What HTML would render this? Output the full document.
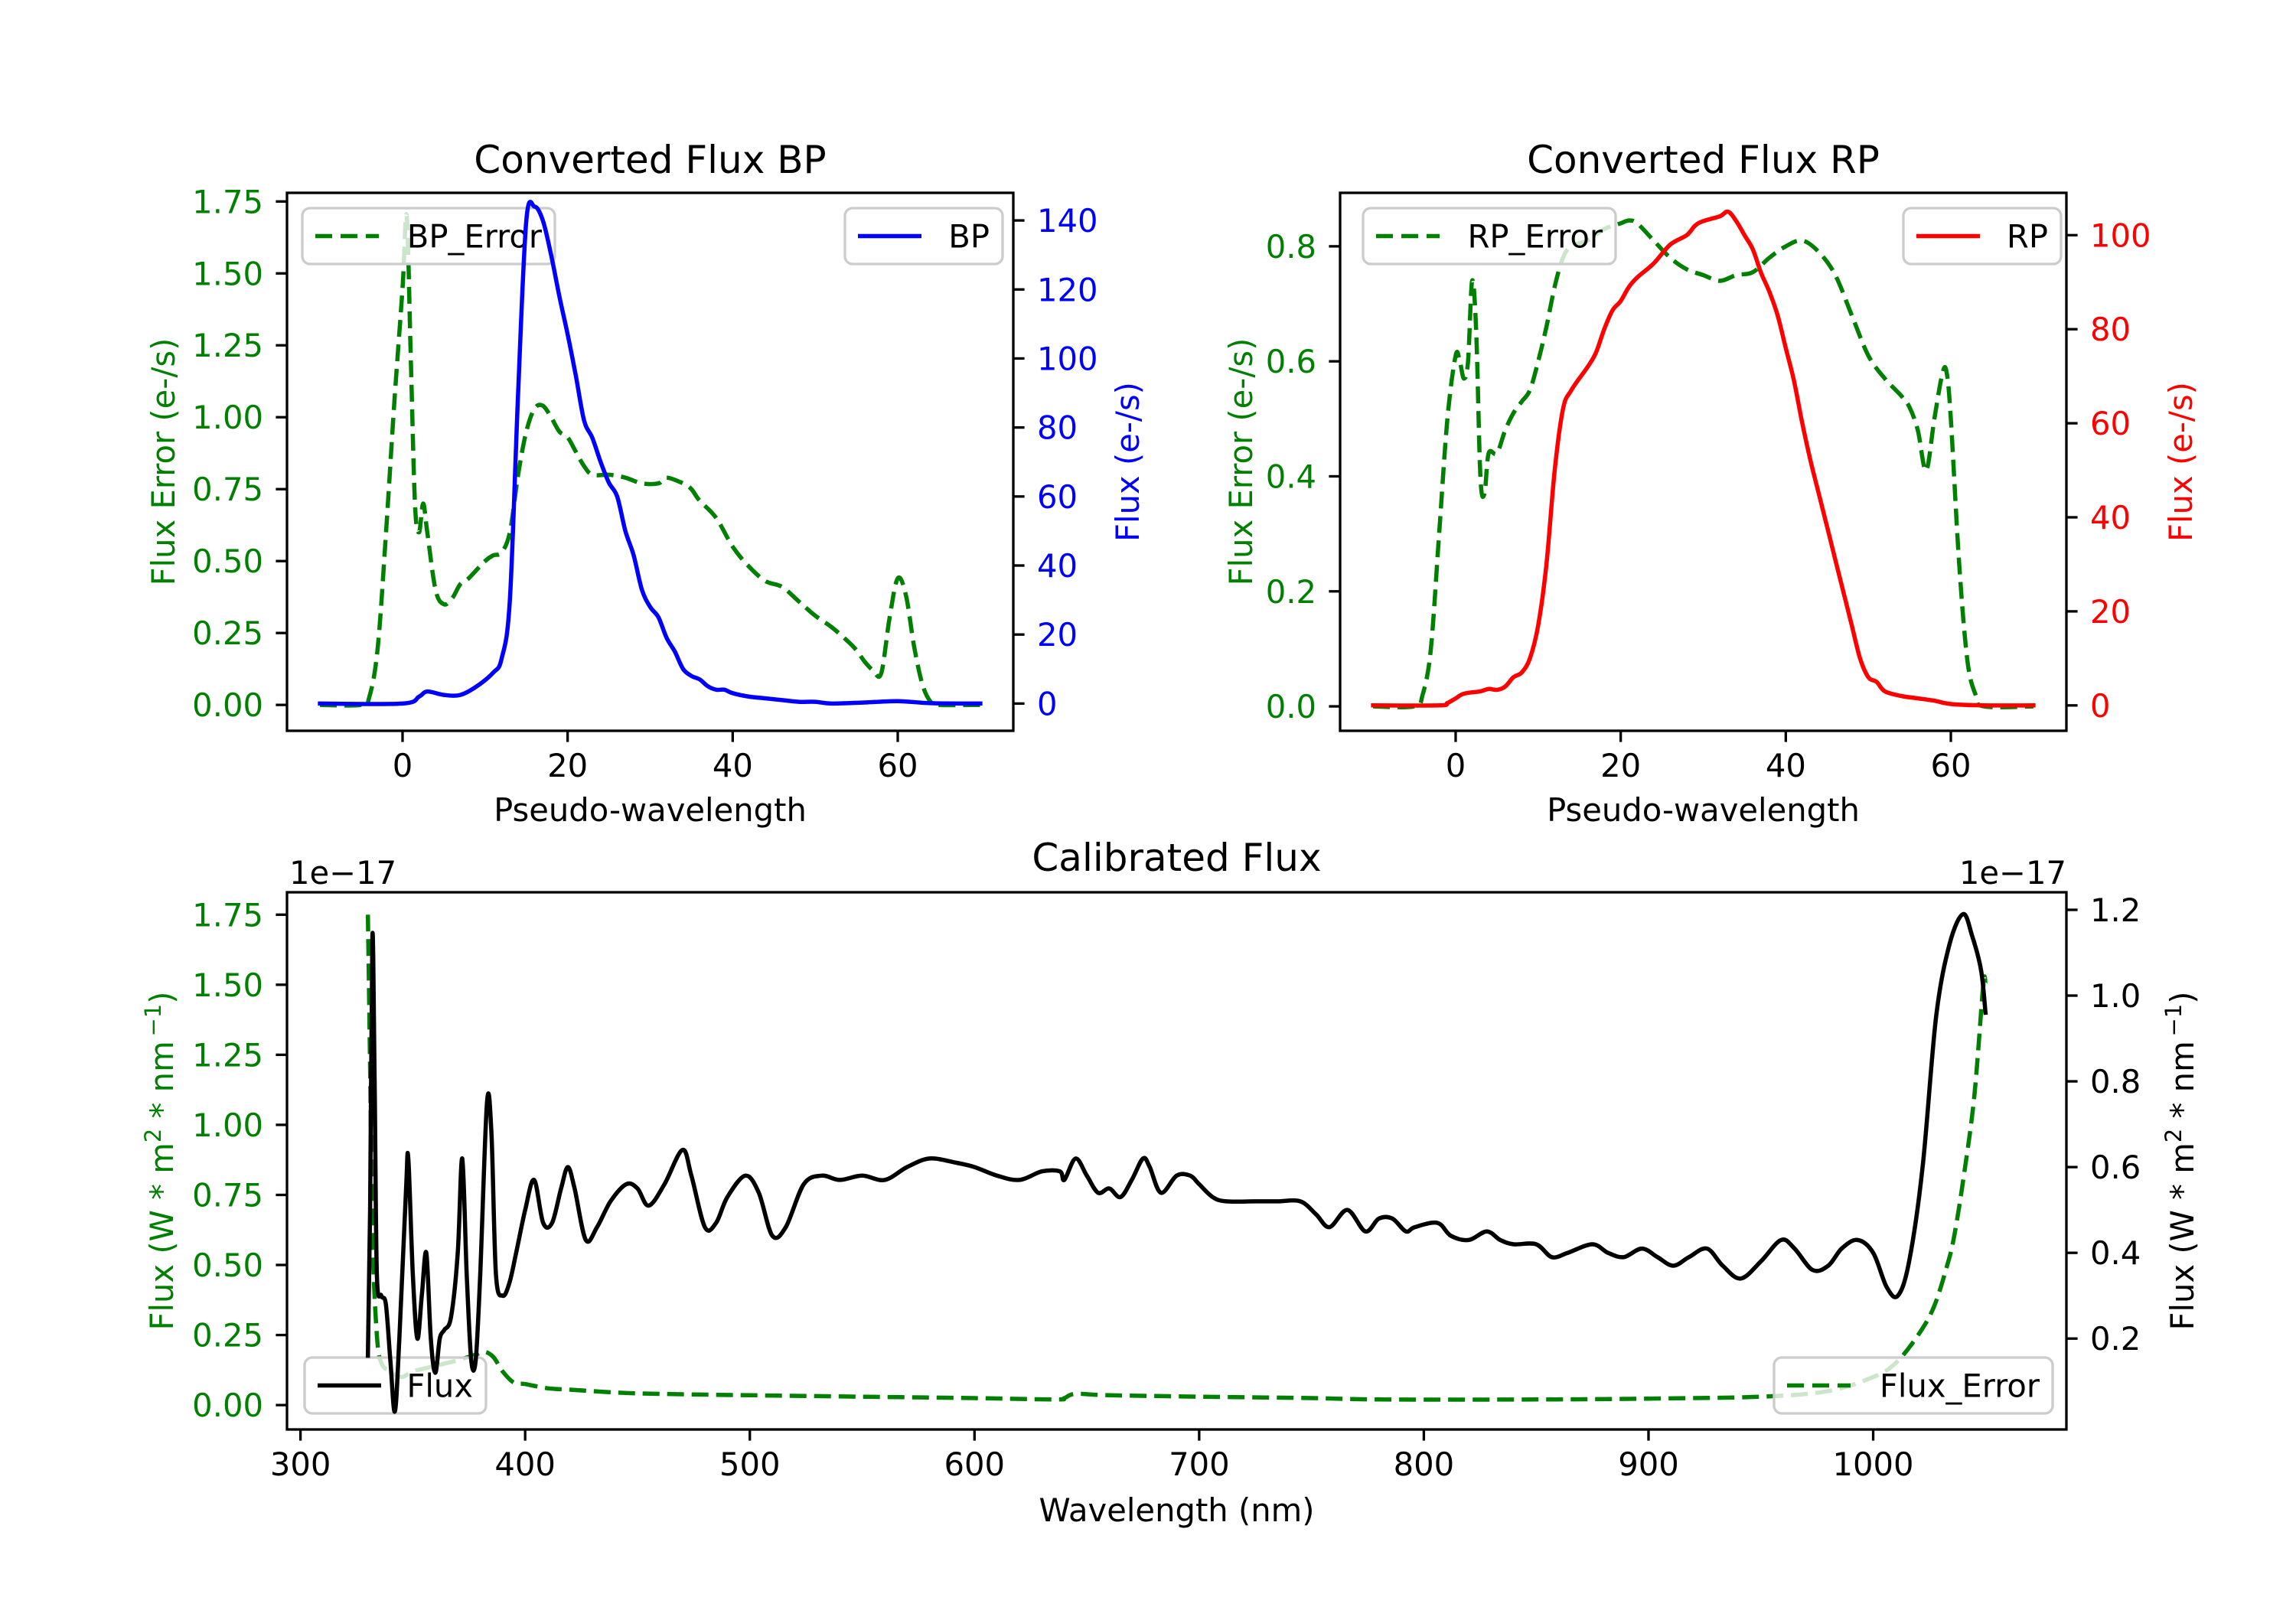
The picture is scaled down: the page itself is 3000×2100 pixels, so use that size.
<!DOCTYPE html>
<html><head><meta charset="utf-8">
<style>
html,body{margin:0;padding:0;background:#fff;}
svg{display:block;font-family:"DejaVu Sans","Liberation Sans",sans-serif;}
</style></head>
<body>
<svg id="fig" width="3000" height="2100" viewBox="0 0 3000 2100" xmlns="http://www.w3.org/2000/svg">
<rect width="3000" height="2100" fill="#fff"/>
</svg>
<script>
// ---------- BP panel data ----------
const bpErrX = [-10,-5,-4,-3,-2,-1,0,0.5,1,1.5,2,2.5,3,4,5,6,7,8,10,11,12,13,14,15,16,17,18,19,20,21,22,23,25,27,29,31,32,34,35,36,38,40,42,44,46,48,50,52,54,55,56,57,58,59,60,61,62,63,64,65,70];
const bpErrY = [0,0,0.03,0.2,0.6,1.05,1.45,1.7,1.2,0.7,0.6,0.7,0.6,0.4,0.35,0.37,0.42,0.44,0.5,0.52,0.53,0.6,0.8,0.95,1.03,1.04,1.0,0.95,0.93,0.88,0.83,0.8,0.8,0.79,0.77,0.77,0.79,0.77,0.75,0.71,0.65,0.55,0.48,0.43,0.41,0.36,0.31,0.27,0.22,0.19,0.15,0.12,0.11,0.3,0.44,0.38,0.2,0.07,0.01,0,0];
const bpX = [-10,0,2,3,5,7,9,11,12,13,14,15,16,17,18,19,20,21,22,23,24,25,26,27,28,29,30,31,32,33,34,35,36,37,38,39,40,42,44,46,48,50,52,56,60,64,70];
const bpY = [0,0,2,3.5,2.5,2.5,5,9,13,30,90,140,144,140,130,118,107,95,82,77,70,64,60,50,43,33,28,25,19,15,10,8,7,5,4,4,3,2,1.5,1,0.5,0.5,0,0.3,0.7,0.1,0];
const bpLeftTicks = [0,0.25,0.5,0.75,1.0,1.25,1.5,1.75];
const bpLeftLabels = ["0.00","0.25","0.50","0.75","1.00","1.25","1.50","1.75"];
const bpRightTicks = [0,20,40,60,80,100,120,140];
const xTicksPW = [0,20,40,60];
// ---------- RP panel data ----------
const rpErrX = [-10,-5,-4,-3,-2,-1,0,0.5,1,1.5,2,2.5,3,3.5,4,5,6,7,8,9,10,11,12,13,14,16,18,20,21,22,24,26,28,30,32,34,36,38,40,42,44,46,48,50,52,54,55,56,57,58,59,59.5,60,61,62,63,64,70];
const rpErrY = [0,0,0.02,0.1,0.3,0.5,0.61,0.6,0.57,0.6,0.74,0.65,0.4,0.37,0.44,0.44,0.48,0.51,0.53,0.55,0.6,0.66,0.73,0.78,0.8,0.81,0.83,0.84,0.845,0.84,0.81,0.78,0.76,0.75,0.74,0.75,0.755,0.78,0.8,0.81,0.79,0.75,0.68,0.61,0.57,0.54,0.52,0.48,0.41,0.5,0.58,0.58,0.5,0.25,0.08,0.02,0,0];
const rpX = [-10,-2,-1,0,1,3,4,5,6,7,8,9,10,11,12,13,14,16,17,18,19,20,21,22,24,26,28,29,30,32,33,34,35,36,37,38,39,40,41,42,43,44,45,46,47,48,49,50,51,52,54,56,58,60,64,70];
const rpY = [0,0,0.5,1.5,2.5,3,3.5,3.3,4,6,7,10,17,30,50,63,67,72,75,80,84,86,89,91,94,98,100,102,103,104,105,103,100,97,92,88,83,76,69,60,52,45,38,31,24,17,10,6,5,3,2,1.5,1,0.3,0,0];
const rpLeftTicks = [0,0.2,0.4,0.6,0.8];
const rpLeftLabels = ["0.0","0.2","0.4","0.6","0.8"];
const rpRightTicks = [0,20,40,60,80,100];
// ---------- Calibrated panel data (units 1e-17) ----------
const calX = [330,331,332,333,334,336,338,340,342,344,347,348,350,352,354,356,358,360,362,364,367,370,372,374,376,378,380,383,385,387,390,393,396,400,404,408,412,416,419,422,427,432,438,445,450,455,462,470,474,480,485,490,498,504,510,516,524,532,540,550,560,570,580,592,600,610,620,630,638,640,645,650,655,660,665,670,675,678,683,690,696,700,706,712,725,735,745,752,758,766,774,780,786,792,796,806,812,820,828,834,840,850,857,864,875,882,889,897,904,911,918,926,933,941,950,959,965,973,980,986,993,1000,1006,1011,1016,1022,1028,1034,1040,1044,1048,1050];
const calFlux = [0.16,0.5,1.14,0.8,0.35,0.3,0.28,0.15,0.03,0.2,0.55,0.62,0.35,0.2,0.3,0.4,0.2,0.12,0.2,0.22,0.25,0.4,0.62,0.35,0.15,0.15,0.35,0.75,0.68,0.35,0.3,0.33,0.4,0.5,0.57,0.47,0.47,0.55,0.6,0.55,0.43,0.46,0.52,0.56,0.55,0.51,0.56,0.64,0.58,0.46,0.47,0.53,0.58,0.54,0.44,0.46,0.56,0.58,0.57,0.58,0.57,0.6,0.62,0.61,0.6,0.58,0.57,0.59,0.59,0.57,0.62,0.58,0.54,0.55,0.53,0.57,0.62,0.6,0.54,0.58,0.58,0.56,0.53,0.52,0.52,0.52,0.52,0.49,0.46,0.5,0.45,0.48,0.48,0.45,0.46,0.47,0.44,0.43,0.45,0.43,0.42,0.42,0.39,0.4,0.42,0.4,0.39,0.41,0.39,0.37,0.39,0.41,0.37,0.34,0.38,0.43,0.41,0.36,0.37,0.41,0.43,0.4,0.32,0.3,0.38,0.6,0.95,1.12,1.19,1.14,1.06,0.96];
const calErrX = [330,331,332,334,336,340,345,350,360,370,378,382,386,390,395,400,410,420,440,460,500,550,600,636,640,645,660,700,750,780,850,900,950,980,1000,1010,1020,1027,1033,1036,1040,1045,1049,1050];
const calErr = [1.75,1.2,0.6,0.25,0.15,0.12,0.1,0.12,0.14,0.16,0.18,0.19,0.17,0.12,0.08,0.075,0.06,0.055,0.045,0.04,0.035,0.03,0.025,0.02,0.025,0.04,0.035,0.03,0.025,0.02,0.02,0.023,0.03,0.05,0.1,0.15,0.25,0.35,0.5,0.6,0.8,1.1,1.5,1.5];
const calLeftTicks = [0,0.25,0.5,0.75,1.0,1.25,1.5,1.75];
const calLeftLabels = ["0.00","0.25","0.50","0.75","1.00","1.25","1.50","1.75"];
const calRightTicks = [0.2,0.4,0.6,0.8,1.0,1.2];
const calRightLabels = ["0.2","0.4","0.6","0.8","1.0","1.2"];
const calXTicks = [300,400,500,600,700,800,900,1000];

const NS = "http://www.w3.org/2000/svg";
const svg = document.getElementById('fig');
const GREEN = '#008000', FS = 41.7;

function mk(tag, attrs, parent, text){
  const e = document.createElementNS(NS, tag);
  for (const k in attrs) e.setAttribute(k, attrs[k]);
  if (text !== undefined) e.textContent = text;
  (parent || svg).appendChild(e);
  return e;
}
function scale(d0, d1, p0, p1){ return v => p0 + (v - d0) * (p1 - p0) / (d1 - d0); }
function smoothPath(xs, ys, sx, sy){
  const P = xs.map((x,i)=>[sx(x), sy(ys[i])]);
  let d = 'M' + P[0][0].toFixed(1) + ' ' + P[0][1].toFixed(1);
  for (let i=0;i<P.length-1;i++){
    const p0 = P[Math.max(0,i-1)], p1 = P[i], p2 = P[i+1], p3 = P[Math.min(P.length-1,i+2)];
    const t = 0.5/3;
    const c1 = [p1[0] + (p2[0]-p0[0])*t, p1[1] + (p2[1]-p0[1])*t];
    const c2 = [p2[0] - (p3[0]-p1[0])*t, p2[1] - (p3[1]-p1[1])*t];
    d += ' C' + c1[0].toFixed(1)+' '+c1[1].toFixed(1)+' '+c2[0].toFixed(1)+' '+c2[1].toFixed(1)+' '+p2[0].toFixed(1)+' '+p2[1].toFixed(1);
  }
  return d;
}
function drawLine(g, xs, ys, sx, sy, color, dashed, name){
  const p = mk('path', {d: smoothPath(xs, ys, sx, sy), fill:'none', stroke:color, 'stroke-width':5.5, 'stroke-linejoin':'round', 'stroke-linecap': dashed ? 'butt' : 'square'}, g);
  if (dashed) p.setAttribute('stroke-dasharray', '22 10');
  
  
  return p;
}
function legend(g, x, y, w, h, color, dashed, label, name){
  const lg = mk('g', {}, g);
  
  
  mk('rect', {x:x, y:y, width:w, height:h, rx:10, fill:'#fff', 'fill-opacity':0.8, stroke:'#cccccc', 'stroke-width':3.3}, lg);
  const l = mk('line', {x1:x+17, y1:y+h/2, x2:x+100, y2:y+h/2, stroke:color, 'stroke-width':5.5}, lg);
  if (dashed) l.setAttribute('stroke-dasharray', '22 11');
  mk('text', {x:x+w-17, y:y+h/2+15, 'font-size':FS, 'text-anchor':'end', fill:'#000'}, lg, label);
}
function yTicks(g, ticks, labels, sy, xAxis, side, color, name){
  const tg = mk('g', {}, g);
  
  
  ticks.forEach((t,i)=>{
    const y = sy(t);
    const dx = side === 'left' ? -14.6 : 14.6;
    mk('line', {x1:xAxis, y1:y, x2:xAxis+dx, y2:y, stroke:'#000', 'stroke-width':3.3}, tg);
    mk('text', {x: side==='left' ? xAxis-31 : xAxis+31, y: y+15, 'font-size':FS, fill:color, 'text-anchor': side==='left'?'end':'start'}, tg, labels[i]);
  });
}
function xTicks(g, ticks, sx, yAxis, name){
  const tg = mk('g', {}, g);
  
  
  ticks.forEach(t=>{
    const x = sx(t);
    mk('line', {x1:x, y1:yAxis, x2:x, y2:yAxis+14.6, stroke:'#000', 'stroke-width':3.3}, tg);
    mk('text', {x:x, y:yAxis+60, 'font-size':FS, fill:'#000', 'text-anchor':'middle'}, tg, String(t));
  });
}
function frame(g, L, T, R, B){
  const f = mk('rect', {x:L, y:T, width:R-L, height:B-T, fill:'none', stroke:'#000', 'stroke-width':3.3}, g);
  
  
}
function text(g, x, y, s, opts, name){
  const t = mk('text', Object.assign({x:x, y:y, 'font-size':FS, fill:'#000', 'text-anchor':'middle'}, opts||{}), g, s);
  
  
  return t;
}

// ================= BP panel =================
(function(){
  const L=375, R=1324, T=252, B=955;
  const g = mk('g', {});  
  const sx = scale(-14, 74, L, R);
  const sy1 = scale(-0.09, 1.78, B, T);
  const sy2 = scale(-7.9, 148, B, T);
  const cp = mk('clipPath', {id:'cbp'}, g); mk('rect', {x:L, y:T, width:R-L, height:B-T}, cp);
  const pg = mk('g', {'clip-path':'url(#cbp)'}, g);
  drawLine(pg, bpErrX, bpErrY, sx, sy1, GREEN, true, 'bp-error-line');
  legend(g, 395, 272, 330, 73, GREEN, true, 'BP_Error', 'bp-error-legend');
  const pg2 = mk('g', {'clip-path':'url(#cbp)'}, g);
  drawLine(pg2, bpX, bpY, sx, sy2, '#0000ff', false, 'bp-flux-line');
  legend(g, 1104, 272, 206, 73, '#0000ff', false, 'BP', 'bp-legend');
  frame(g, L, T, R, B);
  yTicks(g, bpLeftTicks, bpLeftLabels, sy1, L, 'left', GREEN, 'bp-left-ticks');
  yTicks(g, bpRightTicks, bpRightTicks.map(String), sy2, R, 'right', '#0000ff', 'bp-right-ticks');
  xTicks(g, xTicksPW, sx, B, 'bp-x-ticks');
  text(g, (L+R)/2, 226, 'Converted Flux BP', {'font-size':50}, 'bp-title');
  text(g, (L+R)/2, 1073, 'Pseudo-wavelength', {}, 'bp-x-label');
  text(g, 0, 0, 'Flux Error (e-/s)', {fill:GREEN, transform:'translate(228,'+((T+B)/2)+') rotate(-90)'}, 'bp-left-y-label');
  text(g, 0, 0, 'Flux (e-/s)', {fill:'#0000ff', transform:'translate(1488,'+((T+B)/2)+') rotate(-90)'}, 'bp-right-y-label');
})();

// ================= RP panel =================
(function(){
  const L=1751, R=2700, T=252, B=955;
  const g = mk('g', {});  
  const sx = scale(-14, 74, L, R);
  const sy1 = scale(-0.0425, 0.893, B, T);
  const sy2 = scale(-5.4, 109, B, T);
  const cp = mk('clipPath', {id:'crp'}, g); mk('rect', {x:L, y:T, width:R-L, height:B-T}, cp);
  const pg = mk('g', {'clip-path':'url(#crp)'}, g);
  drawLine(pg, rpErrX, rpErrY, sx, sy1, GREEN, true, 'rp-error-line');
  legend(g, 1781, 272, 330, 73, GREEN, true, 'RP_Error', 'rp-error-legend');
  const pg2 = mk('g', {'clip-path':'url(#crp)'}, g);
  drawLine(pg2, rpX, rpY, sx, sy2, '#ff0000', false, 'rp-flux-line');
  legend(g, 2487, 272, 206, 73, '#ff0000', false, 'RP', 'rp-legend');
  frame(g, L, T, R, B);
  yTicks(g, rpLeftTicks, rpLeftLabels, sy1, L, 'left', GREEN, 'rp-left-ticks');
  yTicks(g, rpRightTicks, rpRightTicks.map(String), sy2, R, 'right', '#ff0000', 'rp-right-ticks');
  xTicks(g, xTicksPW, sx, B, 'rp-x-ticks');
  text(g, (L+R)/2, 226, 'Converted Flux RP', {'font-size':50}, 'rp-title');
  text(g, (L+R)/2, 1073, 'Pseudo-wavelength', {}, 'rp-x-label');
  text(g, 0, 0, 'Flux Error (e-/s)', {fill:GREEN, transform:'translate(1636,'+((T+B)/2)+') rotate(-90)'}, 'rp-left-y-label');
  text(g, 0, 0, 'Flux (e-/s)', {fill:'#ff0000', transform:'translate(2864,'+((T+B)/2)+') rotate(-90)'}, 'rp-right-y-label');
})();

// ================= Calibrated panel =================
(function(){
  const L=375, R=2700, T=1166, B=1868;
  const g = mk('g', {});  
  const sx = scale(294, 1086, L, R);
  const sy1 = scale(-0.087, 1.83, B, T);
  const sy2 = scale(-0.012, 1.241, B, T);
  const cp = mk('clipPath', {id:'ccal'}, g); mk('rect', {x:L, y:T, width:R-L, height:B-T}, cp);
  const pg = mk('g', {'clip-path':'url(#ccal)'}, g);
  drawLine(pg, calErrX, calErr, sx, sy1, GREEN, true, 'flux-error-line');
  legend(g, 398, 1774, 237, 73, '#000', false, 'Flux', 'flux-legend');
  legend(g, 2318, 1774, 364, 73, GREEN, true, 'Flux_Error', 'flux-error-legend');
  const pg2 = mk('g', {'clip-path':'url(#ccal)'}, g);
  drawLine(pg2, calX, calFlux, sx, sy2, '#000', false, 'flux-line');
  frame(g, L, T, R, B);
  yTicks(g, calLeftTicks, calLeftLabels, sy1, L, 'left', GREEN, 'cal-left-ticks');
  yTicks(g, calRightTicks, calRightLabels, sy2, R, 'right', '#000', 'cal-right-ticks');
  xTicks(g, calXTicks, sx, B, 'cal-x-ticks');
  text(g, (L+R)/2, 1138, 'Calibrated Flux', {'font-size':50}, 'cal-title');
  text(g, 378, 1155, '1e\u221217', {'text-anchor':'start'}, 'left-offset-label');
  text(g, 2700, 1155, '1e\u221217', {'text-anchor':'end'}, 'right-offset-label');
  text(g, (L+R)/2, 1988, 'Wavelength (nm)', {}, 'cal-x-label');
  function unitLabel(x, color, name){
    const t = text(g, 0, 0, '', {fill:color, transform:'translate('+x+','+((T+B)/2)+') rotate(-90)'}, name);
    mk('tspan', {}, t, 'Flux (W * m');
    mk('tspan', {'font-size':29, dy:-16}, t, '2');
    mk('tspan', {dy:16}, t, ' * nm');
    mk('tspan', {'font-size':29, dy:-16}, t, '\u2009\u22121');
    mk('tspan', {dy:16}, t, ')');
  }
  unitLabel(226, GREEN, 'cal-left-y-label');
  unitLabel(2866, '#000', 'cal-right-y-label');
})();
</script>
</body></html>
